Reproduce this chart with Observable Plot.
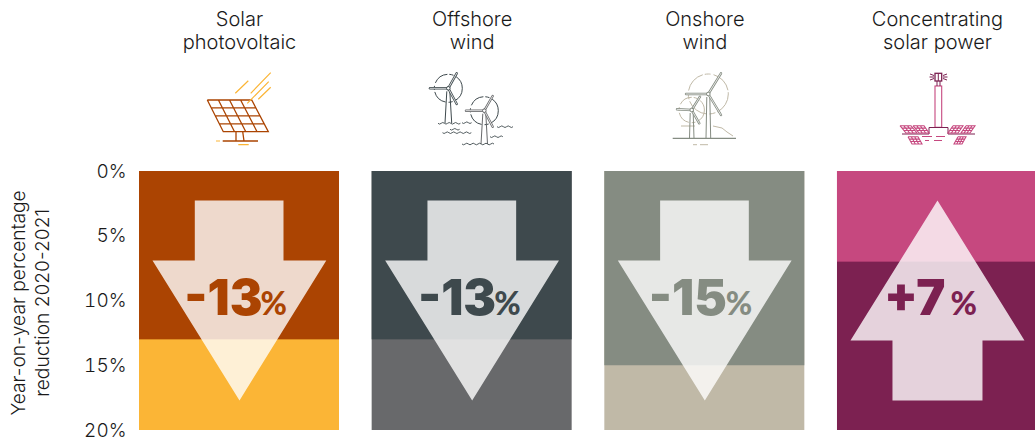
<!DOCTYPE html>
<html>
<head>
<meta charset="utf-8">
<style>
html,body{margin:0;padding:0;background:#fff}
svg{display:block}
</style>
<script src="https://cdn.jsdelivr.net/npm/d3@7"></script>
<script src="https://cdn.jsdelivr.net/npm/@observablehq/plot@0.6"></script>
</head>
<body>
<div id="chart"></div>
<script>
const categories = ["Solar\nphotovoltaic", "Offshore\nwind", "Onshore\nwind", "Concentrating\nsolar power"];
const changes = [-13, -13, -15, 7];
const upperColors = ["#AB4402", "#3E494D", "#858C82", "#C6487F"];
const lowerColors = ["#FBB536", "#68696B", "#C0B9A7", "#7C2151"];
const numberColors = ["#AB4402", "#3E494D", "#858C82", "#7C2151"];
const yTicks = [0, 5, 10, 15, 20];
const yLabel = "Year-on-year percentage\nreduction 2020-2021";

const panelStep = 1.1633;
const panels = categories.map((name, i) => ({
  name, i, left: i * panelStep, right: i * panelStep + 1,
  change: changes[i], size: Math.abs(changes[i]),
  upper: upperColors[i], lower: lowerColors[i], ink: numberColors[i],
  number: (changes[i] > 0 ? "+" : "-") + Math.abs(changes[i]),
  numberEnd: [0.615, 0.62, 0.61, 0.54][i],
  percentStart: [0.605, 0.61, 0.605, 0.565][i]
}));

// Arrow outline, in panel fractions (x) and axis percent (y)
const downShape = [[.2765,2.24],[.72,2.24],[.72,6.87],[.934,6.87],[.5,17.68],[.065,6.87],[.2765,6.87]];
const upShape = [[.5,2.24],[.935,13.05],[.725,13.05],[.725,17.68],[.275,17.68],[.275,13.05],[.065,13.05]];
const arrowPoints = panels.flatMap(p =>
  (p.change < 0 ? downShape : upShape).map(([fx, y]) => ({i: p.i, x: p.left + fx, y}))
);

function turbine(g, hub, tips, tower, color, ringColor, r) {
  g.append("circle").attr("cx", hub[0]).attr("cy", hub[1]).attr("r", r)
    .attr("fill", "none").attr("stroke", ringColor).attr("stroke-width", 1)
    .attr("stroke-dasharray", `${r * 1.1} 2 ${r * 0.3} 3`);
  g.append("path").attr("fill", "none").attr("stroke", color).attr("stroke-width", 1)
    .attr("d", `M${hub[0]-1.5},${hub[1]+3}L${tower[0]},${tower[2]}M${hub[0]+1.5},${hub[1]+3}L${tower[1]},${tower[2]}`);
  for (const t of tips) {
    g.append("line").attr("x1", hub[0]).attr("y1", hub[1]).attr("x2", t[0]).attr("y2", t[1])
      .attr("stroke", color).attr("stroke-width", 2.4).attr("stroke-linecap", "round");
    g.append("line").attr("x1", hub[0]).attr("y1", hub[1]).attr("x2", t[0]).attr("y2", t[1])
      .attr("stroke", "#fff").attr("stroke-width", 0.8).attr("stroke-linecap", "round");
  }
  g.append("circle").attr("cx", hub[0]).attr("cy", hub[1]).attr("r", 1.8)
    .attr("fill", "#fff").attr("stroke", color).attr("stroke-width", 1);
}
function wave(g, x1, x2, y, color) {
  let d = `M${x1},${y}`;
  for (let x = x1, s = 1; x < x2; x += 3.2, s = -s) d += `q1.6,${s * 1.6} 3.2,0`;
  g.append("path").attr("d", d).attr("fill", "none").attr("stroke", color).attr("stroke-width", 0.9);
}
function lines(g, segs, color, w) {
  g.append("path").attr("fill", "none").attr("stroke", color).attr("stroke-width", w)
    .attr("d", segs.map(s => "M" + s.map(p => p.join(",")).join("L")).join(""));
}
function mirror(g, corners, color) {
  const [a, b, c, d] = corners, mix = (p, q, t) => [p[0] + (q[0] - p[0]) * t, p[1] + (q[1] - p[1]) * t];
  const segs = [[a, b, c, d, a]];
  for (const t of [1/3, 2/3]) segs.push([mix(a, b, t), mix(d, c, t)]);
  for (const t of [1/3, 2/3]) segs.push([mix(a, d, t), mix(b, c, t)]);
  lines(g, segs, color, 1.1);
}

function icons() {
  const g = d3.create("svg:g");
  // Solar
  {
    const c = "#AB4402", a = [207.3,100], b = [251.7,100], e = [268.3,131.7], d = [223.3,131.7];
    const mix = (p, q, t) => [p[0] + (q[0] - p[0]) * t, p[1] + (q[1] - p[1]) * t];
    const segs = [[a, b, e, d, a]];
    for (const t of [.25,.5,.75]) segs.push([mix(a, b, t), mix(d, e, t)]);
    for (const t of [.25,.5,.75]) segs.push([mix(a, d, t), mix(b, e, t)]);
    segs.push([[236,131.7],[236,141]], [[242.7,131.7],[244,141]], [[222.7,141],[258,141]]);
    lines(g, segs, c, 1.3);
    lines(g, [[[235.3,93.3],[248.3,80.7]], [[250.7,93.3],[270.7,72.7]], [[258.3,99.3],[270.7,87.3]],
              [[247.3,103.3],[268.7,81.7]], [[216,141],[220,141]], [[238.3,144.7],[248.7,144.7]]], "#FBB536", 1.2);
  }
  // Offshore
  {
    const c = "#3E494D";
    turbine(g, [448.3,88.3], [[456.7,73.3],[430,88.3],[456.7,104]], [445,451.7,123], c, c, 14);
    turbine(g, [484.3,110.7], [[492.7,96],[466,110.7],[492.7,126.7]], [481,487.5,144], "#68696B", c, 14);
    for (const [x1,x2,y] of [[438,458,123.3],[462,470,122.7],[442.5,470,132.7],[450,458,129.3],[497,513,126.7],[490,502,136.7],[462,493,144]])
      wave(g, x1, x2, y, c);
  }
  // Onshore
  {
    const c = "#858C82", b = "#C0B9A7";
    lines(g, [[[681,126],[695,126]], [[713,126],[722,128],[727,132],[733,136]], [[693,144.7],[697,144.7]], [[700,144.7],[708,144.7]]], b, 1);
    turbine(g, [708.3,94], [[721,73.3],[686,94],[721,115]], [706,710.7,138.3], c, b, 20);
    turbine(g, [691.7,110], [[700,96.7],[677,109.3],[699.3,123.3]], [689.5,694,138.3], c, b, 12.7);
    lines(g, [[[672.7,138.3],[736,138.3]]], c, 1.2);
  }
  // Concentrating solar power
  {
    const p = "#C6487F", d = "#7C2151";
    g.append("rect").attr("x",935).attr("y",86).attr("width",6.7).attr("height",41.3).attr("fill","none").attr("stroke",p).attr("stroke-width",1.1);
    g.append("rect").attr("x",935).attr("y",73.3).attr("width",6.7).attr("height",7.7).attr("fill","none").attr("stroke",d).attr("stroke-width",1.3);
    lines(g, [[[938.3,73.3],[938.3,81]], [[937,81],[937,86]], [[940,81],[940,86]],
              [[930,74],[934,75.5]], [[929.5,77],[934,77]], [[930,80],[934,78.5]],
              [[947,74],[943,75.5]], [[947.5,77],[943,77]], [[947,80],[943,78.5]],
              [[902,134],[929,134],[929,127.5],[948,127.5],[948,134],[975,134]]], d, 1);
    lines(g, [[[922,136.5],[932,136.5]], [[936,136.5],[945,136.5]], [[925,140.5],[929,140.5]], [[934,140.5],[942,140.5]]], p, 1);
    mirror(g, [[900,125.7],[911,125.7],[917,133],[906,133]], p);
    mirror(g, [[913,125.7],[924,125.7],[929,133],[919,133]], p);
    mirror(g, [[953,125.7],[963,125.7],[958,133],[948,133]], p);
    mirror(g, [[966,125.7],[975,125.7],[970,133],[961,133]], p);
    mirror(g, [[908,136.7],[918,136.7],[922,144],[912,144]], p);
    mirror(g, [[958,136.7],[966,136.7],[962,144],[954,144]], p);
  }
  return g.node();
}

const labelFont = "Inter, sans-serif";
const numberFont = "Inter, sans-serif";
const chart = Plot.plot({
  width: 1035,
  height: 439,
  marginLeft: 139, marginRight: 0, marginTop: 171, marginBottom: 9,
  style: {background: "#fff", fontFamily: labelFont, fontWeight: 300, color: "#1a1a1a"},
  x: {domain: [0, 4.48], range: [139, 1035], axis: null},
  y: {domain: [0, 20], range: [171, 430], axis: null},
  marks: [
    Plot.rect(panels, {x1: "left", x2: "right", y1: 0, y2: 20, fill: "lower"}),
    Plot.rect(panels, {x1: "left", x2: "right", y1: 0, y2: "size", fill: "upper"}),
    Plot.line(arrowPoints, {x: "x", y: "y", z: "i", fill: "#fff", fillOpacity: 0.8, stroke: "none", curve: "linear-closed"}),
    Plot.text(panels, {x: p => p.left + p.numberEnd, y: 11.07, text: "number", fill: "ink", textAnchor: "end", lineAnchor: "bottom", fontSize: 49, fontWeight: 900, fontFamily: numberFont}),
    Plot.text(panels, {x: p => p.left + p.percentStart, y: 11.07, text: () => "%", fill: "ink", textAnchor: "start", lineAnchor: "bottom", fontSize: 32, fontWeight: 900, fontFamily: "Lato, sans-serif"}),
    Plot.axisY(yTicks, {anchor: "left", tickSize: 0, tickPadding: 13, fontSize: 19, fontWeight: 300, tickFormat: d => d + "%", label: null}),
    Plot.text([yLabel], {x: -0.55, y: 10.15, text: d => d, rotate: -90, fontSize: 19.2, fontWeight: 300, lineHeight: 1.25, textAnchor: "middle", fill: "#1a1a1a"}),
    Plot.text(panels, {x: p => p.left + 0.5, y: -10.93, text: "name", fontSize: 20, fontWeight: 300, lineHeight: 1.15, textAnchor: "middle", fill: "#1a1a1a"}),
    icons
  ]
});
document.getElementById("chart").append(chart);
</script>
</body>
</html>
